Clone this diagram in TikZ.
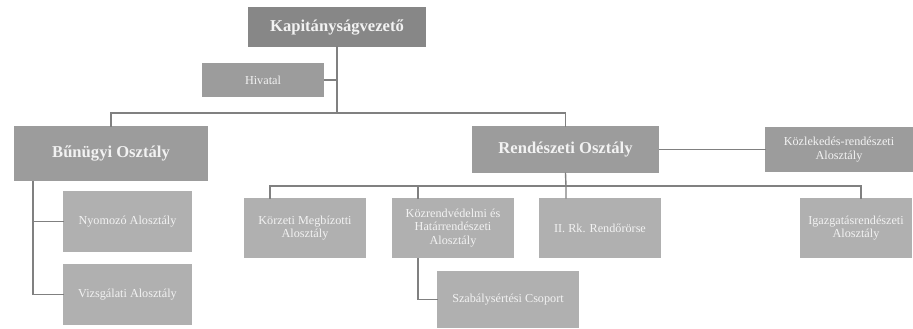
\documentclass[tikz,border=0pt]{standalone}
\usepackage{fontspec}
\setmainfont{Liberation Serif}
\usepackage{tikz}
\definecolor{vvvvvv}{rgb}{0.53,0.53,0.53}
\definecolor{wwwwww}{rgb}{0.61,0.61,0.61}
\definecolor{zzzzzz}{rgb}{0.69,0.69,0.69}
\definecolor{lnlnln}{rgb}{0.5,0.5,0.5}
\tikzset{unit/.style={fill=zzzzzz,text=white!95!black,align=center,inner sep=0pt,font=\fontsize{12.2}{13.2}\selectfont},
  dept/.style={unit,fill=wwwwww},
  head/.style={unit,fill=vvvvvv,font=\fontsize{16.6}{18}\selectfont\bfseries},
  link/.style={draw=lnlnln,line width=1.4pt}}
\begin{document}
\begin{tikzpicture}[x=1pt,y=-1pt,line cap=rect,line join=miter]
      \useasboundingbox (0,0) rectangle (913,329);
      \node[head,minimum width=178pt,minimum height=40pt] (vez) at (337,27) {Kapitányságvezető};
      \node[dept,minimum width=122pt,minimum height=34pt] (hiv) at (263,80) {Hivatal};
      \node[head,fill=wwwwww,minimum width=194pt,minimum height=55pt] (bun) at (111,153.5) {Bűnügyi Osztály};
      \node[head,fill=wwwwww,minimum width=187pt,minimum height=47pt] (ren) at (565.5,149.5) {Rendészeti Osztály};
      \node[dept,minimum width=148pt,minimum height=45pt] (kozl) at (839,149.5) {Közlekedés-rendészeti\\Alosztály};
      \node[unit,minimum width=129pt,minimum height=61pt] (nyom) at (127.5,221.5) {Nyomozó Alosztály};
      \node[unit,minimum width=129pt,minimum height=61pt] (vizs) at (127.5,294.5) {Vizsgálati Alosztály};
      \node[unit,minimum width=122pt,minimum height=60pt] (korz) at (305,228) {Körzeti Megbízotti\\Alosztály};
      \node[unit,minimum width=122pt,minimum height=60pt] (kozr) at (453,228) {Közrendvédelmi és\\Határrendészeti\\Alosztály};
      \node[unit,minimum width=122pt,minimum height=60pt] (rk) at (600,228) {II. Rk. Rendőrörse};
      \node[unit,minimum width=112pt,minimum height=60pt] (igaz) at (856,228) {Igazgatásrendészeti\\Alosztály};
      \node[unit,minimum width=142pt,minimum height=57pt] (szab) at (508,299.5) {Szabálysértési Csoport};
      \coordinate (top) at (337,113);
      \coordinate (mid) at (566,186);
      \draw[link] (vez.south) -- (top);
      \draw[link] (hiv.east) -- (hiv.east -| top);
      \draw[link] (top) -| (bun.north);
      \draw[link] (top) -| (ren.north);
      \draw[link] (ren.east) -- (kozl.west);
      \draw[link] (ren.south) -- (mid) -- (mid |- rk.north);
      \draw[link] (mid) -| ([xshift=26pt]korz.north west);
      \draw[link] (mid) -| ([xshift=26pt]kozr.north west);
      \draw[link] (mid) -| ([xshift=5pt]igaz.north);
      \draw[link] ([xshift=26pt]kozr.south west) |- (szab.west);
      \draw[link] ([xshift=19pt]bun.south west) |- (nyom.west);
      \draw[link] ([xshift=19pt]bun.south west) |- (vizs.west);
\end{tikzpicture}
\end{document}
